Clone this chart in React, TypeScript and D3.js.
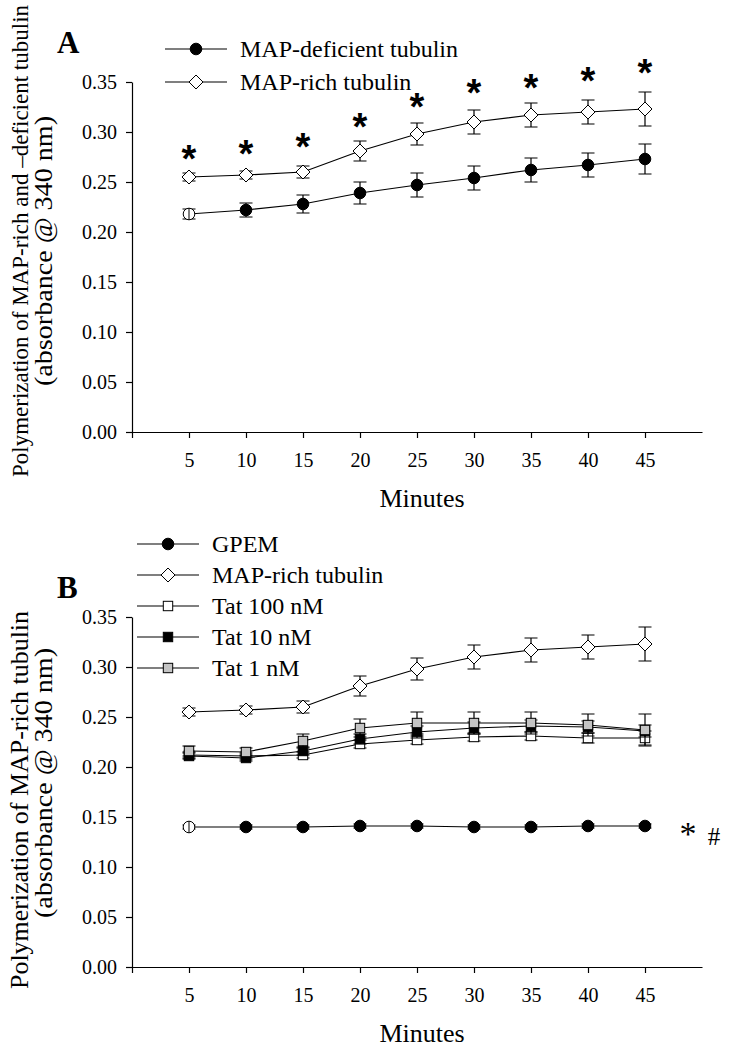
import React, { useRef, useEffect } from "react";
import * as d3 from "d3";

// time points (minutes)
const minutes = [5, 10, 15, 20, 25, 30, 35, 40, 45];
const xTickValues = [0, 5, 10, 15, 20, 25, 30, 35, 40, 45];
const yTickValues = [0, 0.05, 0.1, 0.15, 0.2, 0.25, 0.3, 0.35];

// panel A
const mapDeficient = [0.218, 0.222, 0.228, 0.239, 0.247, 0.254, 0.262, 0.267, 0.273];
const mapDeficientErr = [0.005, 0.007, 0.009, 0.011, 0.012, 0.012, 0.012, 0.012, 0.015];
const mapRich = [0.255, 0.257, 0.26, 0.281, 0.298, 0.31, 0.317, 0.32, 0.323];
const mapRichErr = [0.004, 0.004, 0.006, 0.01, 0.011, 0.012, 0.012, 0.012, 0.017];
const starHeights = [0.279, 0.284, 0.291, 0.311, 0.331, 0.345, 0.35, 0.357, 0.365];

// panel B
const gpem = [0.14, 0.14, 0.14, 0.141, 0.141, 0.14, 0.14, 0.141, 0.141];
const gpemErr = [0.002, 0.002, 0.002, 0.002, 0.002, 0.002, 0.002, 0.002, 0.002];
const tat100 = [0.212, 0.211, 0.212, 0.223, 0.227, 0.23, 0.231, 0.229, 0.229];
const tat100Err = [0.003, 0.003, 0.003, 0.004, 0.004, 0.004, 0.004, 0.005, 0.007];
const tat10 = [0.211, 0.209, 0.216, 0.228, 0.235, 0.239, 0.241, 0.24, 0.236];
const tat10Err = [0.003, 0.003, 0.004, 0.005, 0.006, 0.006, 0.006, 0.006, 0.006];
const tat1 = [0.216, 0.215, 0.226, 0.239, 0.244, 0.244, 0.244, 0.242, 0.237];
const tat1Err = [0.005, 0.004, 0.007, 0.009, 0.011, 0.011, 0.011, 0.011, 0.016];

const SERIF = "'Liberation Serif', 'Times New Roman', serif";

type Marker = "circle" | "diamond" | "square";
type Series = {
  name: string;
  values: number[];
  err: number[];
  marker: Marker;
  fill: string;
  firstOpen?: boolean;
};

const seriesA: Series[] = [
  { name: "MAP-deficient tubulin", values: mapDeficient, err: mapDeficientErr, marker: "circle", fill: "#000", firstOpen: true },
  { name: "MAP-rich tubulin", values: mapRich, err: mapRichErr, marker: "diamond", fill: "#fff" },
];

const seriesB: Series[] = [
  { name: "GPEM", values: gpem, err: gpemErr, marker: "circle", fill: "#000", firstOpen: true },
  { name: "MAP-rich tubulin", values: mapRich, err: mapRichErr, marker: "diamond", fill: "#fff" },
  { name: "Tat 100 nM", values: tat100, err: tat100Err, marker: "square", fill: "#fff" },
  { name: "Tat 10 nM", values: tat10, err: tat10Err, marker: "square", fill: "#000" },
  { name: "Tat 1 nM", values: tat1, err: tat1Err, marker: "square", fill: "#c4c4c4" },
];
// drawing order for panel B (last on top)
const drawOrderB = [2, 3, 4, 1, 0];

type Label = { text: string; size: number; center: number; length?: number };

function drawMarker(g: d3.Selection<SVGGElement, unknown, null, undefined>, marker: Marker, cx: number, cy: number, fill: string) {
  if (marker === "circle") {
    g.append("circle").attr("cx", cx).attr("cy", cy).attr("r", 5.8)
      .attr("fill", fill).attr("stroke", "#000").attr("stroke-width", 1);
  } else if (marker === "diamond") {
    const s = 7;
    g.append("path")
      .attr("d", `M${cx},${cy - s}L${cx + s},${cy}L${cx},${cy + s}L${cx - s},${cy}Z`)
      .attr("fill", fill).attr("stroke", "#000").attr("stroke-width", 1);
  } else {
    const s = 4.7;
    g.append("rect").attr("x", cx - s).attr("y", cy - s).attr("width", 2 * s).attr("height", 2 * s)
      .attr("fill", fill).attr("stroke", "#000").attr("stroke-width", 1);
  }
}

function drawPanel(
  svg: d3.Selection<SVGSVGElement, unknown, null, undefined>,
  opts: {
    top: number;
    bottom: number;
    series: Series[];
    order: number[];
    letter: string;
    letterY: number;
    legendX: number;
    legendY: number;
    legendStep: number;
    labels: Label[];
  }
) {
  const x = d3.scaleLinear().domain([0, 50]).range([132, 702]);
  const y = d3.scaleLinear().domain([0, 0.35]).range([opts.bottom, opts.top]);
  const g = svg.append("g");

  // axes
  const yAxis = g.append("g")
    .attr("transform", `translate(${x(0)},0)`)
    .call(d3.axisLeft(y).tickValues(yTickValues).tickFormat(d3.format(".2f")).tickSize(6).tickSizeOuter(0).tickPadding(9));
  const xAxis = g.append("g")
    .attr("transform", `translate(0,${y(0)})`)
    .call(d3.axisBottom(x).tickValues(xTickValues).tickFormat((d) => (d === 0 ? "" : String(d))).tickSize(6).tickSizeOuter(0).tickPadding(15));
  [yAxis, xAxis].forEach((a) => {
    a.selectAll("text").attr("font-family", SERIF).attr("font-size", 20).attr("fill", "#000");
    a.selectAll("line").attr("stroke", "#000").attr("stroke-width", 1.2);
    a.select(".domain").attr("stroke", "#000").attr("stroke-width", 1.2);
  });

  g.append("text")
    .attr("x", (x(0) + x(50)) / 2 + 5)
    .attr("y", y(0) + 75)
    .attr("text-anchor", "middle")
    .attr("font-family", SERIF)
    .attr("font-size", 26)
    .text("Minutes");

  opts.labels.forEach((lab, i) => {
    const t = g.append("text")
      .attr("transform", `translate(${28 + i * 24},${lab.center}) rotate(-90)`)
      .attr("text-anchor", "middle")
      .attr("font-family", SERIF)
      .attr("font-size", lab.size)
      .text(lab.text);
    if (lab.length) t.attr("textLength", lab.length).attr("lengthAdjust", "spacingAndGlyphs");
  });

  g.append("text")
    .attr("x", 57)
    .attr("y", opts.letterY)
    .attr("font-family", SERIF)
    .attr("font-weight", "bold")
    .attr("font-size", 31)
    .text(opts.letter);

  const line = d3.line<number>().x((_, i) => x(minutes[i])).y((v) => y(v));

  opts.order.forEach((si) => {
    const s = opts.series[si];
    const sg = g.append("g");
    sg.append("path").attr("d", line(s.values)).attr("fill", "none").attr("stroke", "#000").attr("stroke-width", 1.2);
    s.values.forEach((v, i) => {
      const cx = x(minutes[i]);
      const hi = y(v + s.err[i]);
      const lo = y(v - s.err[i]);
      sg.append("path")
        .attr("d", `M${cx},${hi}V${lo}M${cx - 6.5},${hi}H${cx + 6.5}M${cx - 6.5},${lo}H${cx + 6.5}`)
        .attr("stroke", "#000").attr("stroke-width", 1.2).attr("fill", "none");
    });
    s.values.forEach((v, i) => {
      const open = s.firstOpen && i === 0;
      drawMarker(sg, s.marker, x(minutes[i]), y(v), open ? "#fff" : s.fill);
      if (open) {
        sg.append("line").attr("x1", x(minutes[i])).attr("x2", x(minutes[i]))
          .attr("y1", y(v) - 5.8).attr("y2", y(v) + 5.8).attr("stroke", "#000").attr("stroke-width", 1);
      }
    });
  });

  // legend
  opts.series.forEach((s, i) => {
    const ly = opts.legendY + i * opts.legendStep;
    const lg = g.append("g");
    lg.append("line").attr("x1", opts.legendX).attr("x2", opts.legendX + 62).attr("y1", ly).attr("y2", ly)
      .attr("stroke", "#000").attr("stroke-width", 1.2);
    drawMarker(lg, s.marker, opts.legendX + 31, ly, s.fill);
    lg.append("text")
      .attr("x", opts.legendX + 75)
      .attr("y", ly)
      .attr("dy", "0.35em")
      .attr("font-family", SERIF)
      .attr("font-size", 24)
      .text(s.name);
  });

  return { x, y, g };
}

export default function App() {
  const svgRef = useRef<SVGSVGElement>(null);

  useEffect(() => {
    if (!svgRef.current) return;
    document.body.style.margin = "0";
    const svg = d3.select(svgRef.current);
    svg.selectAll("*").remove();

    const A = drawPanel(svg, {
      top: 82,
      bottom: 432,
      series: seriesA,
      order: [0, 1],
      letter: "A",
      letterY: 53,
      legendX: 165,
      legendY: 49,
      legendStep: 33,
      labels: [
        { text: "Polymerization of MAP-rich and \u2013deficient tubulin", size: 23, center: 241 },
        { text: "(absorbance @ 340 nm)", size: 25, center: 251, length: 270 },
      ],
    });

    // significance asterisks above MAP-rich tubulin
    const starSize = 38;
    starHeights.forEach((v, i) => {
      A.g.append("text")
        .attr("x", A.x(minutes[i]))
        .attr("y", A.y(v) + 0.58 * starSize - 3)
        .attr("text-anchor", "middle")
        .attr("font-family", "'Liberation Sans', Arial, sans-serif")
        .attr("font-weight", "bold")
        .attr("font-size", starSize)
        .text("*");
    });

    const B = drawPanel(svg, {
      top: 617,
      bottom: 967,
      series: seriesB,
      order: drawOrderB,
      letter: "B",
      letterY: 598,
      legendX: 137,
      legendY: 544,
      legendStep: 31,
      labels: [
        { text: "Polymerization of MAP-rich tubulin", size: 25, center: 800, length: 378 },
        { text: "(absorbance @ 340 nm)", size: 25, center: 783, length: 270 },
      ],
    });

    B.g.append("text")
      .attr("x", 688)
      .attr("y", B.y(0.14) + 18)
      .attr("text-anchor", "middle")
      .attr("font-family", SERIF)
      .attr("font-size", 34)
      .text("*");
    B.g.append("text")
      .attr("x", 714)
      .attr("y", B.y(0.14) + 18)
      .attr("text-anchor", "middle")
      .attr("font-family", SERIF)
      .attr("font-size", 25)
      .text("#");
  }, []);

  return <svg ref={svgRef} width={729} height={1050} style={{ display: "block", background: "#fff" }} />;
}
